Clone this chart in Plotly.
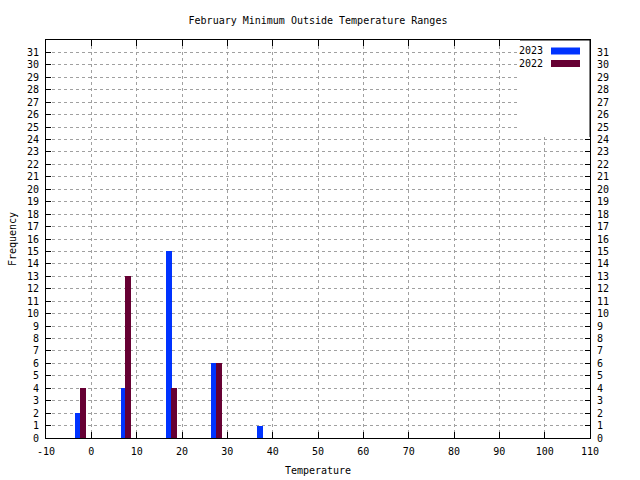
import plotly.graph_objects as go

# Data (bin start values)
bins = [-3, 7, 17, 27, 37]
freq_2023 = [2, 4, 15, 6, 1]
freq_2022 = [4, 13, 4, 6, 0]
series_names = ["2023", "2022"]
colors = ["#0033ff", "#660033"]

x_ticks = list(range(-10, 111, 10))
y_ticks = list(range(0, 32))

FONT = "DejaVu Sans Mono"

fig = go.Figure()
fig.add_trace(go.Bar(x=bins, y=freq_2023, width=1.3, offset=-0.5,
                     marker=dict(color=colors[0], line=dict(width=0)), name=series_names[0]))
fig.add_trace(go.Bar(x=bins, y=freq_2022, width=1.3, offset=0.5,
                     marker=dict(color=colors[1], line=dict(width=0)), name=series_names[1]))
# invisible trace for right axis labels
fig.add_trace(go.Scatter(x=[0], y=[0], yaxis="y2", mode="markers",
                         marker=dict(opacity=0), hoverinfo="skip", showlegend=False))

grid = dict(showgrid=True, gridcolor="#a0a0a0", gridwidth=1, griddash="3px,3px")

fig.update_layout(
    width=640, height=480,
    paper_bgcolor="white", plot_bgcolor="white",
    margin=dict(l=46, r=50, t=40, b=42, autoexpand=False),
    barmode="overlay", bargap=0,
    showlegend=False,
    font=dict(family=FONT, size=10, color="black"),
    title=dict(text="February Minimum Outside Temperature Ranges", x=0.5, xanchor="center",
               xref="paper",
               y=1 - 20 / 480, yanchor="middle", font=dict(family=FONT, size=10)),
    xaxis=dict(range=[-10, 110], tickvals=x_ticks, ticktext=[str(v) for v in x_ticks],
               ticks="inside", ticklen=6, tickcolor="black", mirror="ticks",
               showline=True, linecolor="black", linewidth=1, zeroline=False,
               automargin=False, ticklabelstandoff=4,
               title=dict(text="Temperature", standoff=10, font=dict(family=FONT, size=10)),
               tickfont=dict(family=FONT, size=10), **grid),
    yaxis=dict(range=[0, 32], tickvals=y_ticks, ticktext=[str(v) for v in y_ticks],
               ticks="inside", ticklen=5, tickcolor="black", mirror="ticks",
               showline=True, linecolor="black", linewidth=1, zeroline=False,
               automargin=False, ticklabelstandoff=4,
               title=dict(text="Frequency", standoff=8, font=dict(family=FONT, size=10)),
               tickfont=dict(family=FONT, size=10), **grid),
    yaxis2=dict(range=[0, 32], tickvals=y_ticks, ticktext=[str(v) for v in y_ticks],
                overlaying="y", side="right", showgrid=False, zeroline=False,
                automargin=False, ticklabelstandoff=6,
                ticks="", showline=False, tickfont=dict(family=FONT, size=10)),
)

# legend background box covering grid
fig.add_shape(type="rect", xref="paper", yref="paper",
              x0=(520 - 46) / 544, x1=1, y0=(438 - 137) / 398, y1=1,
              fillcolor="white", line=dict(width=0), layer="above")
# redraw top/right borders over shape
fig.add_shape(type="line", xref="paper", yref="paper", x0=(520 - 46) / 544, x1=1, y0=1, y1=1,
              line=dict(color="black", width=1), layer="above")
fig.add_shape(type="line", xref="paper", yref="paper", x0=1, x1=1, y0=(438 - 137) / 398, y1=1,
              line=dict(color="black", width=1), layer="above")

# manual legend
leg_y = [51, 63.5]
for name, col, py in zip(series_names, colors, leg_y):
    yp = (438 - py) / 398
    fig.add_annotation(text=name, xref="paper", yref="paper", x=(545 - 46) / 544, y=yp,
                       xanchor="right", yanchor="middle", showarrow=False,
                       font=dict(family=FONT, size=10, color="black"))
    fig.add_shape(type="rect", xref="paper", yref="paper",
                  x0=(551 - 46) / 544, x1=(580 - 46) / 544,
                  y0=(438 - py - 3.5) / 398, y1=(438 - py + 3.5) / 398,
                  fillcolor=col, line=dict(width=0), layer="above")

fig.write_html("out.html", config={"displayModeBar": False},
               post_script="document.body.style.margin='0';")
